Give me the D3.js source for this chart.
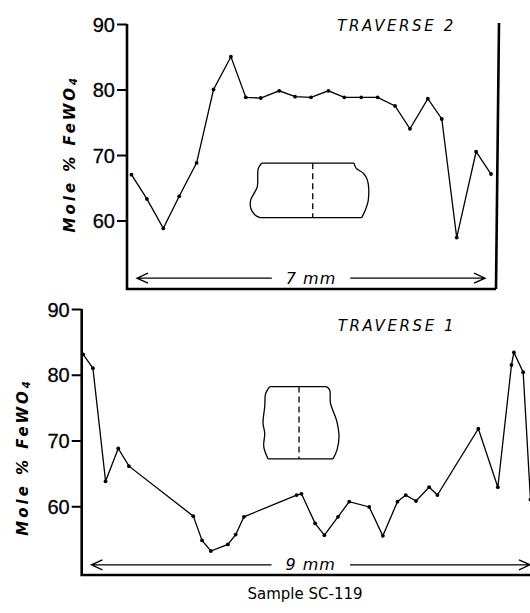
<!DOCTYPE html>
<html>
<head>
<meta charset="utf-8">
<script src="https://cdn.jsdelivr.net/npm/d3@7"></script>
<style>
  body { margin: 0; background: #fff; }
  svg { display: block; }
  .frame { stroke: #000; stroke-width: 2.6; fill: none; }
  .trace { stroke: #000; stroke-width: 1.3; fill: none; }
  .tick text { font-family: "Liberation Sans", Arial, sans-serif; font-size: 20px; fill: #000; stroke: #000; stroke-width: 0.3px; }
  .tick line { stroke: #000; stroke-width: 2; }
  .ylabel { font-family: "DejaVu Sans", sans-serif; font-style: italic; font-weight: bold; font-size: 15px; letter-spacing: 3px; }
  .title { font-family: "DejaVu Sans", sans-serif; font-style: italic; font-size: 15px; letter-spacing: 2.6px; }
  .scale-text { font-family: "DejaVu Sans", sans-serif; font-style: italic; font-size: 16px; letter-spacing: 1px; }
  .caption { font-family: "DejaVu Sans", sans-serif; font-size: 15px; letter-spacing: 0; }
  .inset { stroke: #000; stroke-width: 1.3; fill: none; }
</style>
</head>
<body>
<div id="chart"></div>
<script>
// Traverse 2 (upper panel): distance along traverse (mm) and mole % FeWO4
const t2Dist = [-0.11, 0.2, 0.53, 0.85, 1.2, 1.54, 1.89, 2.19, 2.49, 2.86, 3.18, 3.5,
                3.85, 4.17, 4.51, 4.84, 5.19, 5.49, 5.85, 6.13, 6.43, 6.82, 7.12];
const t2Fe   = [67.0, 63.3, 58.8, 63.7, 68.8, 80.0, 85.0, 78.8, 78.7, 79.8, 78.9, 78.8,
                79.8, 78.8, 78.8, 78.8, 77.5, 74.0, 78.6, 75.5, 57.4, 70.5, 67.1];

// Traverse 1 (lower panel)
const t1Dist = [-0.17, 0.03, 0.29, 0.55, 0.77, 2.09, 2.27, 2.45, 2.8, 2.96, 3.13,
                4.21, 4.31, 4.59, 4.78, 5.06, 5.29, 5.7, 5.98, 6.28, 6.45, 6.66, 6.93, 7.1,
                7.94, 8.34, 8.62, 8.67, 8.86, 9.01];
const t1Fe   = [83.1, 81.0, 63.8, 68.8, 66.1, 58.5, 54.8, 53.2, 54.2, 55.7, 58.4,
                61.7, 61.9, 57.4, 55.6, 58.4, 60.7, 59.9, 55.5, 60.7, 61.7, 60.8, 62.9, 61.7,
                71.8, 62.9, 81.5, 83.4, 80.4, 61.0];

const yTicks = [60, 70, 80, 90];
const yLabel = "Mole % FeWO";
const titles = ["TRAVERSE 2", "TRAVERSE 1"];
const spans = [7, 9];           // traverse length in mm
const caption = "Sample SC-119";

// sample outline sketches, local px relative to dashed line top
const inset2Left  = [[-51, 0], [-54.4, 5], [-55.4, 23.4], [-57.7, 28.4], [-62, 36.7], [-62, 45], [-57.7, 51.7], [-52.7, 54.4]];
const inset2Right = [[41.3, 0], [43.3, 5], [50.6, 10], [54.6, 16.7], [55.6, 36.7], [53.3, 45], [49, 54.4]];
const inset1Left  = [[-29.3, 0], [-33.3, 6.6], [-34.3, 20], [-36, 36.6], [-34.3, 46.6], [-35.3, 60], [-31, 72.3]];
const inset1Right = [[27.4, 0], [30.7, 3.3], [31.4, 16.6], [37.4, 33.3], [40, 50], [38, 63.3], [34, 72.3]];

const width = 530, height = 613;
const svg = d3.select("#chart").append("svg")
    .attr("width", width)
    .attr("height", height);

const panels = [
    { dist: t2Dist, fe: t2Fe, title: titles[0], span: spans[0],
      x: d3.scaleLinear().domain([-0.2, 7.2]).range([127, 495]),
      y: d3.scaleLinear().domain([49.7, 90]).range([288, 24]),
      rightBorder: true, labelAt: 70.2, labelOff: 57, arrowAt: 51.2,
      titleX: 5.22, titleY: 88.9,
      inset: { left: inset2Left, right: inset2Right, h: 54.4, xAt: 3.535, yAt: 68.75 } },
    { dist: t1Dist, fe: t1Fe, title: titles[1], span: spans[1],
      x: d3.scaleLinear().domain([-0.2, 9.0]).range([81.7, 530]),
      y: d3.scaleLinear().domain([49.7, 90]).range([574, 309]),
      rightBorder: false, labelAt: 67.5, labelOff: 59, arrowAt: 51.1,
      titleX: 6.27, titleY: 86.65,
      inset: { left: inset1Left, right: inset1Right, h: 72.3, xAt: 4.26, yAt: 78.2 } }
];

panels.forEach(p => {
    const g = svg.append("g");
    const [x0, x1] = p.x.range();
    const [yb, yt] = p.y.range();

    // axis frame
    g.append("path").attr("class", "frame")
        .attr("d", `M${x0},${yt}V${yb + 1}H${p.rightBorder ? x1 + 1 : x1}`);
    if (p.rightBorder) {
        g.append("path").attr("class", "frame")
            .attr("d", `M${x1 + 4},${yt - 1}L${x1 + 1},${yb + 1}`);
    }

    // y ticks
    const ax = g.append("g")
        .attr("transform", `translate(${x0},0)`)
        .call(d3.axisLeft(p.y).tickValues(yTicks).tickSize(10).tickPadding(2).tickFormat(d3.format("d")));
    ax.select(".domain").remove();
    ax.selectAll(".tick text").attr("dy", "0.36em");

    // y label
    const lab = g.append("text").attr("class", "ylabel")
        .attr("text-anchor", "middle")
        .attr("dominant-baseline", "central")
        .attr("transform", `translate(${x0 - p.labelOff},${p.y(p.labelAt)}) rotate(-90)`);
    lab.append("tspan").text(yLabel);
    lab.append("tspan").attr("font-size", "10px").attr("dy", "3").text("4");

    // trace
    const pts = p.dist.map((d, i) => [d, p.fe[i]]);
    const line = d3.line().x(d => p.x(d[0])).y(d => p.y(d[1]));
    g.append("path").attr("class", "trace").attr("d", line(pts));
    g.selectAll("circle.pt").data(pts).enter().append("circle")
        .attr("class", "pt")
        .attr("cx", d => p.x(d[0]))
        .attr("cy", d => p.y(d[1]))
        .attr("r", 1.9)
        .attr("fill", "#000");

    // title
    g.append("text").attr("class", "title")
        .attr("x", p.x(p.titleX)).attr("y", p.y(p.titleY))
        .attr("text-anchor", "middle")
        .text(p.title);

    // scale arrow
    const ay = p.y(p.arrowAt);
    const ax0 = p.x(0), ax1 = p.x(p.span), axm = p.x(p.span / 2);
    const txt = g.append("text").attr("class", "scale-text")
        .attr("x", axm).attr("y", ay)
        .attr("dy", "0.35em")
        .attr("text-anchor", "middle")
        .text(p.span + " mm");
    const half = txt.node().getComputedTextLength() / 2 + 14;
    g.append("path").attr("class", "trace")
        .attr("d", `M${ax0},${ay}H${axm - half}M${axm + half},${ay}H${ax1}` +
                   `M${ax0 + 11},${ay - 5}L${ax0},${ay}L${ax0 + 11},${ay + 5}` +
                   `M${ax1 - 11},${ay - 5}L${ax1},${ay}L${ax1 - 11},${ay + 5}`);

    // sample outline inset
    const cx = p.x(p.inset.xAt), cy = p.y(p.inset.yAt);
    const ins = g.append("g").attr("transform", `translate(${cx},${cy})`);
    const L = p.inset.left, R = p.inset.right;
    const curve = d3.line().curve(d3.curveCatmullRom);
    ins.append("path").attr("class", "inset").attr("d", curve(L));
    ins.append("path").attr("class", "inset").attr("d", curve(R));
    ins.append("path").attr("class", "inset")
        .attr("d", `M${L[0][0]},0H${R[0][0]}M${L[L.length - 1][0]},${p.inset.h}H${R[R.length - 1][0]}`);
    ins.append("line").attr("class", "inset")
        .attr("x1", 0).attr("x2", 0).attr("y1", 0).attr("y2", p.inset.h)
        .attr("stroke-dasharray", "6,4");
});

svg.append("text").attr("class", "caption")
    .attr("x", 305).attr("y", 599)
    .attr("text-anchor", "middle")
    .text(caption);
</script>
</body>
</html>
